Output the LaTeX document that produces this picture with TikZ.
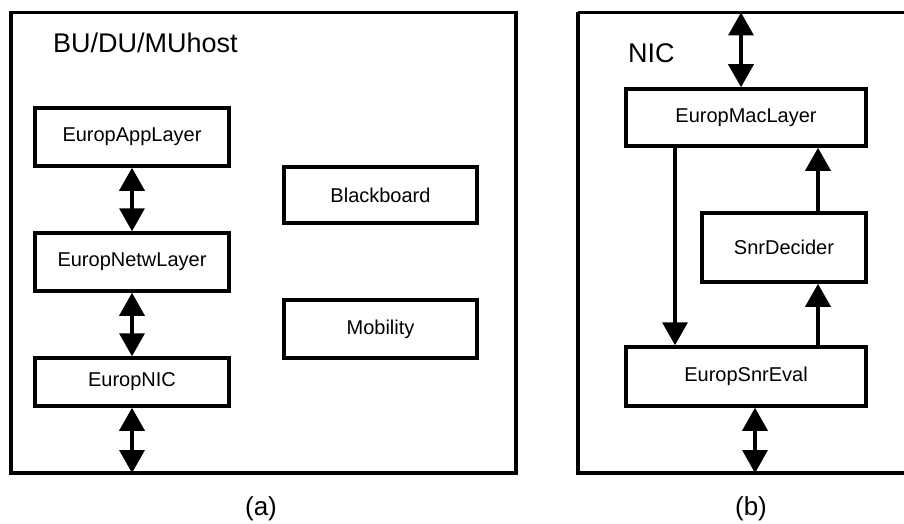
\documentclass[tikz,border=0pt]{standalone}
\usepackage{fontspec}
\setmainfont{Liberation Sans}
\usetikzlibrary{arrows.meta}
\begin{document}
\begin{tikzpicture}[x=1pt,y=-1pt,
  blk/.style={draw,line width=3.5pt,line join=miter,inner sep=0pt,font=\fontsize{20}{24}\selectfont},
  outer/.style={draw,line width=3.5pt,line join=miter,inner sep=0pt},
  con/.style={line width=3.5pt,-{Triangle[width=25pt,length=23pt]}},
  bicon/.style={line width=3.5pt,{Triangle[width=25pt,length=23pt]}-{Triangle[width=25pt,length=23pt]}},
  ttl/.style={anchor=base west,inner sep=0pt,font=\fontsize{27}{32}\selectfont},
  captxt/.style={inner sep=0pt,font=\fontsize{26}{31}\selectfont}]
\useasboundingbox (0,0) rectangle (904,524);
\clip (0,0) rectangle (904,524);
% outer frames
\draw[outer] (11,12.5) rectangle (516,473);
\draw[outer] (578,12.5) -- (915,12.5) (578,12.5) -- (578,473) -- (915,473);
\coordinate (hostbot) at (132,473);
\coordinate (nictop) at (741,12.5);
\coordinate (nicbot) at (755,473);
\node[ttl] (host) at (53,53) {BU/DU/MUhost};
\node[ttl] (nic) at (628,63) {NIC};
% (a)
\node[blk,minimum width=194pt,minimum height=58pt] (app) at (132,137) {EuropAppLayer};
\node[blk,minimum width=194pt,minimum height=58pt] (netw) at (132,262) {EuropNetwLayer};
\node[blk,minimum width=194pt,minimum height=48pt] (enic) at (132,382) {EuropNIC};
\node[blk,minimum width=193pt,minimum height=56pt] (bb) at (380.5,195) {Blackboard};
\node[blk,minimum width=193pt,minimum height=58pt] (mob) at (380.5,329) {Mobility};
\draw[bicon] (app.south) -- (netw.north);
\draw[bicon] (netw.south) -- (enic.north);
\draw[bicon] (enic.south) -- (hostbot);
% (b)
\node[blk,minimum width=240pt,minimum height=57pt] (mac) at (746,117.5) {EuropMacLayer};
\node[blk,minimum width=164pt,minimum height=69pt] (dec) at (784,247.5) {SnrDecider};
\node[blk,minimum width=240pt,minimum height=59pt] (eval) at (746,376.5) {EuropSnrEval};
\draw[bicon] (nictop) -- (nictop |- mac.north);
\draw[con] (mac.south -| 675,0) -- (eval.north -| 675,0);
\draw[con] (dec.north -| 818,0) -- (mac.south -| 818,0);
\draw[con] (eval.north -| 818,0) -- (dec.south -| 818,0);
\draw[bicon] (eval.south -| nicbot) -- (nicbot);
% captions
\node[captxt] (capa) at (261,509) {(a)};
\node[captxt] (capb) at (751,509) {(b)};
\end{tikzpicture}
\end{document}
